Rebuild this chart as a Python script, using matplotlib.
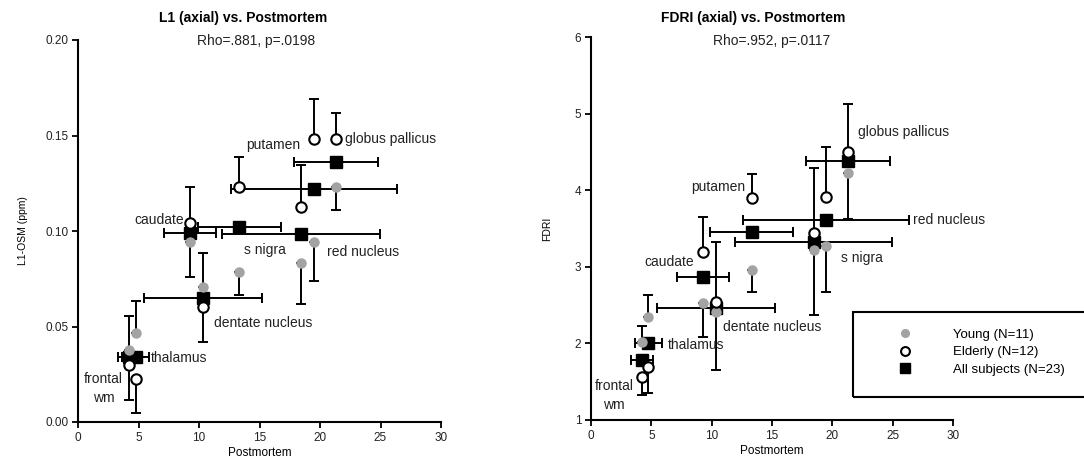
import matplotlib
matplotlib.use("Agg")
import matplotlib.pyplot as plt
from matplotlib.patches import Rectangle
import numpy as np

plt.rcParams['font.family'] = ['Liberation Sans', 'DejaVu Sans']

# brain regions and postmortem iron content (x axis)
regions = ['frontal wm', 'thalamus', 'caudate', 'dentate nucleus',
           'putamen', 's nigra', 'red nucleus', 'globus pallicus']
postmortem = np.array([4.24, 4.76, 9.28, 10.35, 13.32, 18.46, 19.48, 21.30])
postmortem_sd = np.array([0.9, 1.1, 2.14, 4.86, 3.43, 6.52, 6.86, 3.49])

# L1 panel
l1_young = np.array([0.0377, 0.0466, 0.094, 0.0707, 0.0785, 0.083, 0.094, 0.123])
l1_young_err = np.array([0.018, 0.0167, 0.018, 0.018, 0.012, 0.021, 0.020, 0.012])
l1_elderly = np.array([0.030, 0.0225, 0.104, 0.060, 0.123, 0.1125, 0.148, 0.148])
l1_elderly_err = np.array([0.0185, 0.018, 0.019, 0.018, 0.016, 0.022, 0.021, 0.014])
l1_all = np.array([0.034, 0.034, 0.099, 0.065, 0.102, 0.0984, 0.122, 0.136])

# FDRI panel
fdri_young = np.array([2.02, 2.34, 2.53, 2.41, 2.96, 3.22, 3.27, 4.22])
fdri_young_err = np.array([0.21, 0.29, 0.45, 0.76, 0.29, 0.85, 0.60, 0.60])
fdri_elderly = np.array([1.56, 1.69, 3.19, 2.54, 3.90, 3.44, 3.91, 4.50])
fdri_elderly_err = np.array([0.23, 0.34, 0.46, 0.79, 0.31, 0.85, 0.65, 0.63])
fdri_all = np.array([1.78, 2.0, 2.87, 2.46, 3.45, 3.32, 3.61, 4.38])

legend_labels = ['Young (N=11)', 'Elderly (N=12)', 'All subjects (N=23)']


def away(vals, other, err):
    # each group's bar points away from the other group
    up = np.where(vals >= other, err, 0)
    down = np.where(vals < other, err, 0)
    return [down, up]


def panel(ax, young, young_err, elderly, elderly_err, allsub):
    ebkw = dict(fmt='none', ecolor='black', elinewidth=1.4, capsize=3.5, capthick=1.4)
    ax.errorbar(postmortem, allsub, xerr=postmortem_sd, zorder=2, **ebkw)
    ax.errorbar(postmortem, young, yerr=away(young, elderly, young_err), zorder=2, **ebkw)
    ax.errorbar(postmortem, elderly, yerr=away(elderly, young, elderly_err), zorder=2, **ebkw)
    ax.plot(postmortem, allsub, 's', color='black', ms=8, zorder=3, label=legend_labels[2])
    ax.plot(postmortem, young, 'o', color='#a3a3a3', ms=6.5, zorder=4, label=legend_labels[0])
    ax.plot(postmortem, elderly, 'o', mfc='white', mec='black', mew=1.5, ms=7.5,
            zorder=5, label=legend_labels[1])
    ax.set_xlim(0, 30)
    ax.set_xticks(range(0, 31, 5))
    for s in ['top', 'right']:
        ax.spines[s].set_visible(False)
    for s in ['left', 'bottom']:
        ax.spines[s].set_linewidth(1.5)
    ax.tick_params(direction='out', length=4, width=1.3, labelsize=8.5,
                   labelcolor='#222222', pad=3)
    ax.set_xlabel('Postmortem', fontsize=8.5, labelpad=2)


fig = plt.figure(figsize=(10.84, 4.68), dpi=100)
ax1 = fig.add_axes([78 / 1084, 46 / 468, 363 / 1084, 382 / 468])
ax2 = fig.add_axes([591 / 1084, 48 / 468, 362 / 1084, 383 / 468])

panel(ax1, l1_young, l1_young_err, l1_elderly, l1_elderly_err, l1_all)
ax1.set_ylim(0, 0.2)
ax1.set_yticks([0, 0.05, 0.10, 0.15, 0.20])
ax1.set_yticklabels(['0.00', '0.05', '0.10', '0.15', '0.20'])
ax1.set_ylabel('L1-OSM (ppm)', fontsize=7.5, labelpad=12)

panel(ax2, fdri_young, fdri_young_err, fdri_elderly, fdri_elderly_err, fdri_all)
ax2.set_ylim(1, 6)
ax2.set_yticks(range(1, 7))
ax2.set_ylabel('FDRI', fontsize=7.5, labelpad=16)

lab = dict(fontsize=10, color='#222222', va='center')
l1_text = [('caudate', 8.8, 0.106, 'right'), ('putamen', 18.4, 0.145, 'right'),
           ('globus pallicus', 22.1, 0.148, 'left'), ('s nigra', 13.7, 0.090, 'left'),
           ('red nucleus', 20.6, 0.089, 'left'), ('dentate nucleus', 11.2, 0.052, 'left'),
           ('thalamus', 6.0, 0.0335, 'left'), ('frontal\nwm', 2.1, 0.0175, 'center')]
for t, x, y, ha in l1_text:
    ax1.text(x, y, t, ha=ha, linespacing=1.4, **lab)

fdri_text = [('putamen', 12.8, 4.04, 'right'), ('caudate', 8.5, 3.06, 'right'),
             ('globus pallicus', 22.1, 4.76, 'left'), ('red nucleus', 26.7, 3.61, 'left'),
             ('s nigra', 20.7, 3.12, 'left'), ('dentate nucleus', 10.9, 2.21, 'left'),
             ('thalamus', 6.4, 1.98, 'left'), ('frontal\nwm', 1.9, 1.32, 'center')]
for t, x, y, ha in fdri_text:
    ax2.text(x, y, t, ha=ha, linespacing=1.4, clip_on=False, **lab)

fig.text(243 / 1084, 1 - 18 / 468, 'L1 (axial) vs. Postmortem', ha='center', va='center',
         fontsize=10, fontweight='bold')
fig.text(256 / 1084, 1 - 41 / 468, 'Rho=.881, p=.0198', ha='center', va='center',
         fontsize=10, color='#222222')
fig.text(753 / 1084, 1 - 18 / 468, 'FDRI (axial) vs. Postmortem', ha='center', va='center',
         fontsize=10, fontweight='bold')
fig.text(772 / 1084, 1 - 41 / 468, 'Rho=.952, p=.0117', ha='center', va='center',
         fontsize=10, color='#222222')

# legend box
fig.patches.append(Rectangle((853 / 1084, 71 / 468), 240 / 1084, 85 / 468,
                             transform=fig.transFigure, fill=False, lw=1.5,
                             edgecolor='black'))
h, l = ax2.get_legend_handles_labels()
order = [1, 2, 0]
leg = fig.legend([h[i] for i in order], [l[i] for i in order], loc='center left',
                 bbox_to_anchor=(855 / 1084, 116 / 468), frameon=False, fontsize=9.5,
                 handlelength=7.0, handletextpad=0.15, borderpad=0.3, labelspacing=0.4,
                 borderaxespad=0, markerscale=0.85)

fig.savefig('out.png', dpi=100)
